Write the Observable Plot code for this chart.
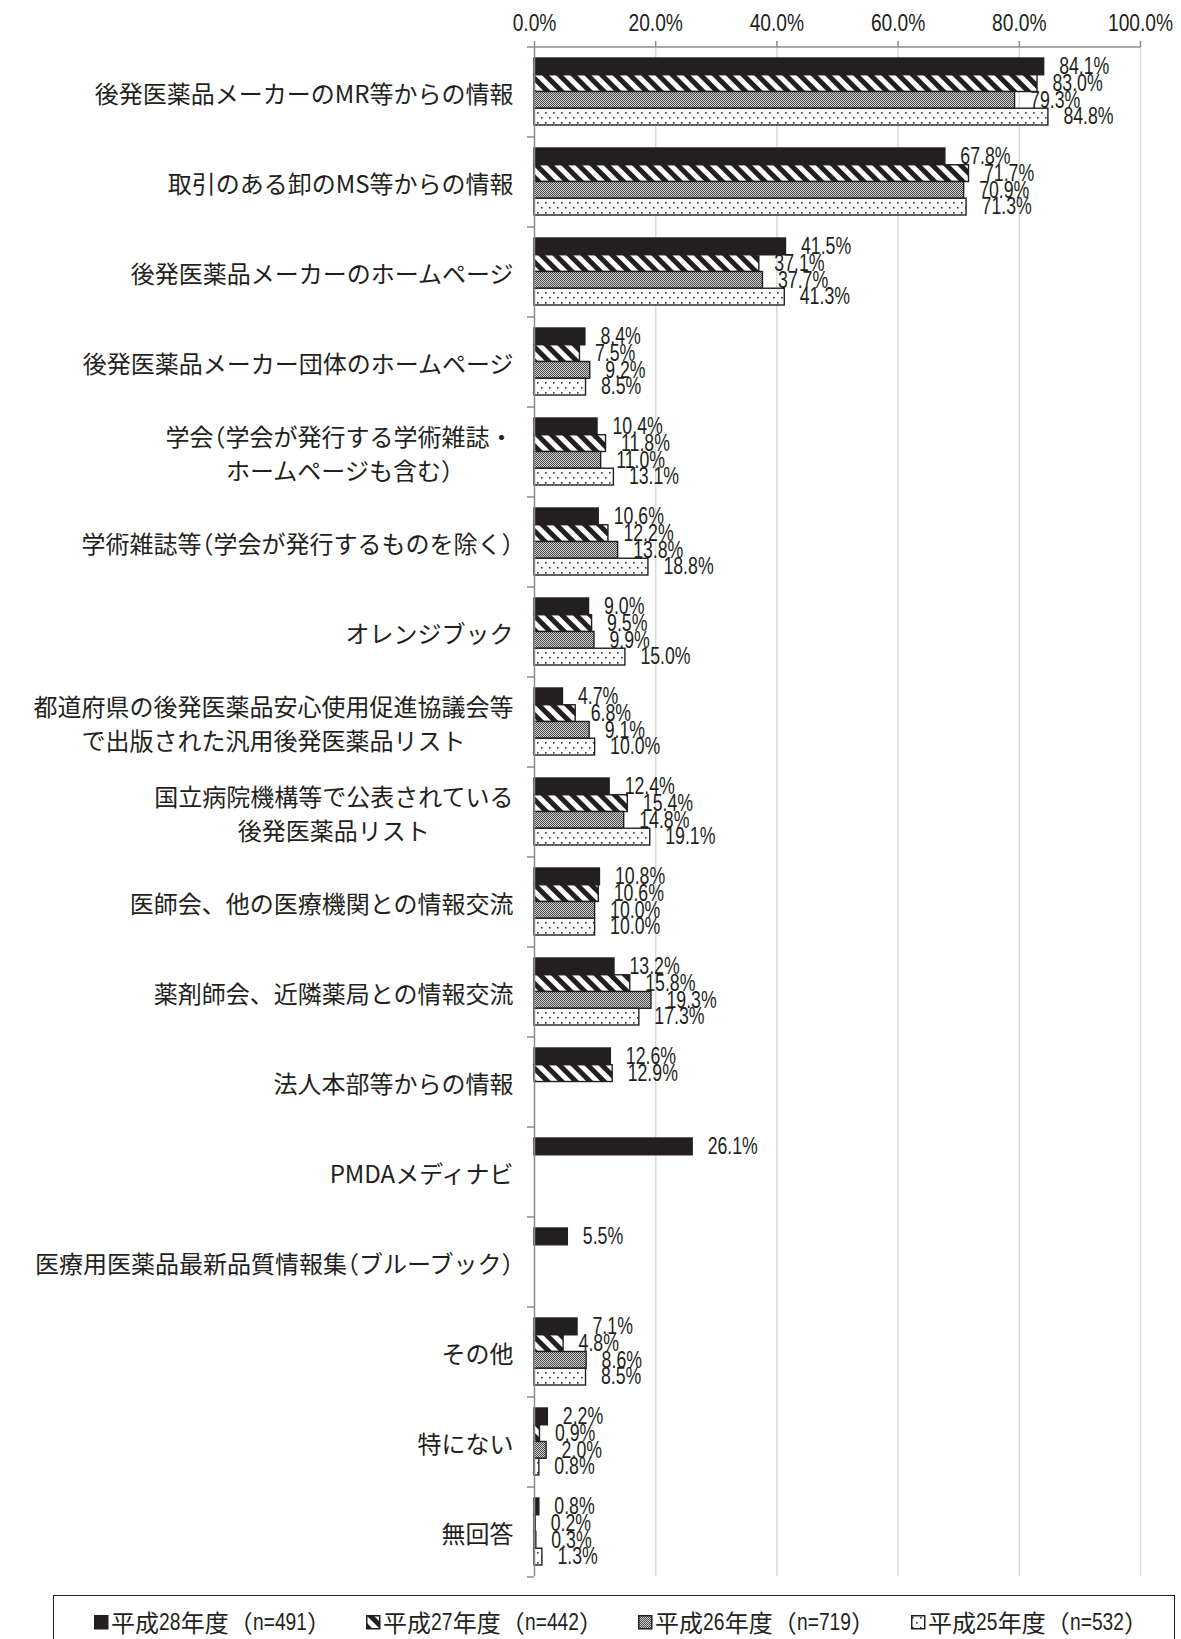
<!DOCTYPE html>
<html><head><meta charset="utf-8">
<script src="https://cdn.jsdelivr.net/npm/d3@7"></script>
<script src="https://cdn.jsdelivr.net/npm/@observablehq/plot@0.6"></script>
<style>
body{margin:0;background:#fff;}
#wrap{position:relative;width:1181px;height:1639px;overflow:hidden;background:#fff;}
#legend{position:absolute;left:53px;top:1595px;width:1122px;height:70px;border:1.5px solid #231f20;box-sizing:border-box;}
.item{position:absolute;top:11px;height:30px;line-height:30px;font-family:"Noto Sans CJK JP",sans-serif;font-size:24px;color:#231f20;white-space:nowrap;display:flex;align-items:center;}
.item svg{margin-right:2px;}
.lat{display:inline-block;font-family:"Liberation Sans",sans-serif;transform:scaleX(0.8);transform-origin:left center;}
.halt{font-feature-settings:"halt";}
</style></head>
<body>
<svg width="0" height="0" style="position:absolute">
<defs>
<pattern id="p27" patternUnits="userSpaceOnUse" width="10" height="10" patternTransform="rotate(-45)">
<rect width="10" height="10" fill="#fff"/><rect width="5" height="10" fill="#231f20"/>
</pattern>
<pattern id="p26" patternUnits="userSpaceOnUse" width="2" height="2">
<rect width="2" height="2" fill="#cfcfcf"/><rect width="1" height="1" fill="#4a4a4a"/><rect x="1" y="1" width="1" height="1" fill="#4a4a4a"/>
</pattern>
<pattern id="p25" patternUnits="userSpaceOnUse" width="8" height="10">
<rect width="8" height="10" fill="#fff"/><rect x="1" y="2" width="1.6" height="1.6" fill="#333"/><rect x="5" y="7" width="1.6" height="1.6" fill="#333"/>
</pattern>
</defs></svg>
<div id="wrap"><div id="chart"></div><div id="legend"></div></div>
<script>
const categories = [
  "後発医薬品メーカーのMR等からの情報",
  "取引のある卸のMS等からの情報",
  "後発医薬品メーカーのホームページ",
  "後発医薬品メーカー団体のホームページ",
  "学会（学会が発行する学術雑誌・\nホームページも含む）",
  "学術雑誌等（学会が発行するものを除く）",
  "オレンジブック",
  "都道府県の後発医薬品安心使用促進協議会等\nで出版された汎用後発医薬品リスト",
  "国立病院機構等で公表されている\n後発医薬品リスト",
  "医師会、他の医療機関との情報交流",
  "薬剤師会、近隣薬局との情報交流",
  "法人本部等からの情報",
  "PMDAメディナビ",
  "医療用医薬品最新品質情報集（ブルーブック）",
  "その他",
  "特にない",
  "無回答"
];
const h28 = [84.1, 67.8, 41.5, 8.4, 10.4, 10.6, 9.0, 4.7, 12.4, 10.8, 13.2, 12.6, 26.1, 5.5, 7.1, 2.2, 0.8];
const h27 = [83.0, 71.7, 37.1, 7.5, 11.8, 12.2, 9.5, 6.8, 15.4, 10.6, 15.8, 12.9, null, null, 4.8, 0.9, 0.2];
const h26 = [79.3, 70.9, 37.7, 9.2, 11.0, 13.8, 9.9, 9.1, 14.8, 10.0, 19.3, null, null, null, 8.6, 2.0, 0.3];
const h25 = [84.8, 71.3, 41.3, 8.5, 13.1, 18.8, 15.0, 10.0, 19.1, 10.0, 17.3, null, null, null, 8.5, 0.8, 1.3];
const seriesYears = ["平成28年度", "平成27年度", "平成26年度", "平成25年度"];
const seriesN = [491, 442, 719, 532];
const xTicks = [0, 20, 40, 60, 80, 100];

const seriesValues = [h28, h27, h26, h25];
const fills = ["#231f20", "url(#p27)", "url(#p26)", "url(#p25)"];
const ink = "#231f20", axisGray = "#8c8c8c";
const latin = "'Liberation Sans',Arial,sans-serif";

const W = 1181, H = 1590, mTop = 46, mBottom = 14, mLeft = 534, mRight = 41;
const n = categories.length;
const step = (H - mTop - mBottom) / n;
const pInner = 0.256;
const bw = step * (1 - pInner);
const slot = bw / 4;

const marks = [Plot.ruleX(xTicks.slice(1), {stroke: "#d9d9d9", strokeWidth: 1.5})];
seriesValues.forEach((vals, i) => {
  const rows = categories.map((c, j) => ({category: c, value: vals[j]})).filter(d => d.value != null);
  marks.push(Plot.barX(rows, {
    y: "category", x1: 0, x2: "value",
    fill: fills[i], stroke: ink, strokeWidth: 1.4,
    insetTop: i * slot, insetBottom: (3 - i) * slot
  }));
  marks.push(Plot.text(rows, {
    y: "category", x: "value", text: d => d.value.toFixed(1) + "%",
    dx: 15, dy: (i - 1.5) * slot, textAnchor: "start",
    fontSize: 23, fontFamily: latin, fill: ink
  }));
});
marks.push(
  Plot.ruleX([0], {stroke: axisGray, strokeWidth: 1.5}),
  Plot.ruleY(categories, {y: d => d, dy: step / 2, x1: 0, x2: 0, insetLeft: -7, stroke: axisGray, strokeWidth: 1.5}),
  Plot.ruleY([categories[0]], {y: d => d, dy: -step / 2, x1: 0, x2: 100, insetLeft: -7, stroke: axisGray, strokeWidth: 1.5}),
  Plot.axisX({anchor: "top", label: null, ticks: xTicks, tickFormat: d => d.toFixed(1) + "%", tickSize: 6, tickPadding: 10,
    fontSize: 24, fontFamily: latin, stroke: axisGray, strokeWidth: 1.5, fill: ink}),
  Plot.axisY({label: null, tickSize: 0, tickPadding: 21, fontSize: 24, fontFamily: "'Noto Sans CJK JP',sans-serif", lineHeight: 1.4, fill: ink})
);

const chart = Plot.plot({
  width: W, height: H,
  marginTop: mTop, marginBottom: mBottom, marginLeft: mLeft, marginRight: mRight,
  style: {background: "#fff", overflow: "visible"},
  x: {domain: [0, 100], label: null},
  y: {domain: categories, paddingInner: pInner, paddingOuter: pInner / 2, label: null},
  marks
});
document.getElementById("chart").appendChild(chart);

// condensed look for numeric labels (horizontal compression around each label's anchor)
function squeeze(sel, k) {
  chart.querySelectorAll(sel).forEach(t => {
    const tr = t.getAttribute("transform");
    if (tr) t.setAttribute("transform", tr + ` scale(${k},1)`);
    else {
      const x = +t.getAttribute("x") || 0, y = +t.getAttribute("y") || 0;
      t.setAttribute("x", 0); t.setAttribute("y", 0);
      t.setAttribute("transform", `translate(${x},${y}) scale(${k},1)`);
    }
  });
}
squeeze('g[aria-label="text"] text', 0.77);
squeeze('g[aria-label="x-axis tick label"] text', 0.8);

// category labels: half-width parentheses, multi-line blocks centred
const SVGNS = "http://www.w3.org/2000/svg";
function haltParens(node) {
  const s = node.textContent;
  if (!/[（）]/.test(s)) return;
  node.textContent = "";
  s.split(/([（）])/).filter(p => p !== "").forEach(p => {
    const ts = document.createElementNS(SVGNS, "tspan");
    ts.textContent = p;
    if (p === "（" || p === "）") ts.setAttribute("class", "halt");
    node.appendChild(ts);
  });
}
chart.querySelectorAll('g[aria-label="y-axis tick label"] text').forEach(t => {
  const spans = Array.from(t.children).filter(c => c.tagName === "tspan");
  if (spans.length) spans.forEach(haltParens); else haltParens(t);
  if (spans.length > 1) {
    let maxW = 0;
    spans.forEach(s => { maxW = Math.max(maxW, s.getComputedTextLength()); });
    t.setAttribute("text-anchor", "middle");
    t.style.textAnchor = "middle";
    spans.forEach(s => s.setAttribute("x", -maxW / 2));
  }
});

// legend
const legend = document.getElementById("legend");
const lefts = [40, 312, 584, 857];
seriesYears.forEach((yr, i) => {
  const it = document.createElement("div");
  it.className = "item";
  it.style.left = lefts[i] + "px";
  const m = yr.match(/^(平成)(\d+)(年度)$/);
  it.innerHTML = `<svg width="15" height="15"><rect x="0.75" y="0.75" width="13" height="13" fill="${fills[i]}" stroke="${ink}" stroke-width="1.5"/></svg>` +
    `<span>${m[1]}</span><span class="lat" style="margin-right:-5px">${m[2]}</span><span>${m[3]}（</span><span class="lat" style="margin-right:-13px">n=${seriesN[i]}</span><span class="halt">）</span>`;
  legend.appendChild(it);
});
</script>
</body></html>
